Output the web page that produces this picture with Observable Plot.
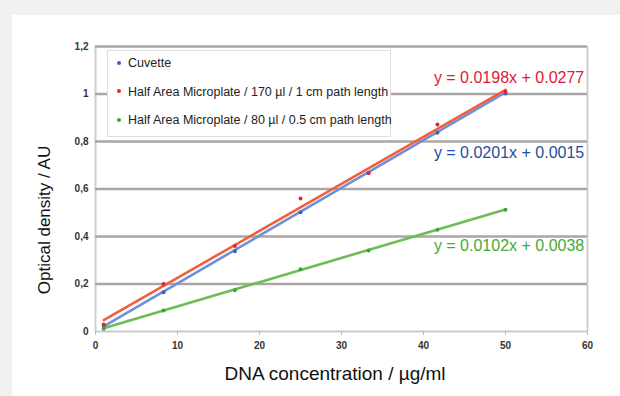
<!DOCTYPE html>
<html>
<head>
<meta charset="utf-8">
<script src="https://cdn.jsdelivr.net/npm/d3@7"></script>
<script src="https://cdn.jsdelivr.net/npm/@observablehq/plot@0.6"></script>
<style>
  html, body { margin: 0; padding: 0; background: #f1f1f1; }
  #wrap { position: relative; width: 620px; height: 396px; overflow: hidden; font-family: "Liberation Sans", Arial, sans-serif; }
  #panel { position: absolute; left: 12px; top: 15px; right: 0; bottom: 0; background: #fff; }
  #chart { position: absolute; left: 0; top: 0; }
  #legend { position: absolute; left: 107px; top: 50px; width: 284px; height: 87px; background: #fff; border: 1.5px solid #dedede; box-sizing: border-box; }
  .li { position: absolute; left: 9px; font-size: 12.5px; color: #222; white-space: nowrap; }
  .li span.dot { display: inline-block; width: 4px; height: 4px; border-radius: 2px; margin-right: 7px; vertical-align: middle; position: relative; top: -1px; }
  #xlab { position: absolute; left: 0; width: 670px; text-align: center; top: 363px; font-size: 19px; color: #111; }
  #ylab { position: absolute; left: 45px; top: 220px; font-size: 17px; color: #111; white-space: nowrap; transform: translate(-50%, -50%) rotate(-90deg); }
</style>
</head>
<body>
<div id="wrap">
  <div id="panel"></div>
  <div id="chart"></div>
  <div id="legend"></div>
  <div id="xlab">DNA concentration / µg/ml</div>
  <div id="ylab">Optical density / AU</div>
</div>
<script>
// ---- data ----
const concentrations = [1, 8.3, 17, 25, 33.3, 41.7, 50];
const seriesNames = ["Cuvette", "Half Area Microplate / 170 µl / 1 cm path length", "Half Area Microplate / 80 µl / 0.5 cm path length"];
const cuvette = [0.025, 0.165, 0.338, 0.502, 0.667, 0.837, 1.002];
const half170 = [0.030, 0.200, 0.360, 0.560, 0.667, 0.872, 1.011];
const half80 = [0.012, 0.088, 0.174, 0.262, 0.341, 0.428, 0.513];
const slopes = [0.0201, 0.0198, 0.0102];
const intercepts = [0.0015, 0.0277, 0.0038];
const equations = ["y = 0.0201x + 0.0015", "y = 0.0198x + 0.0277", "y = 0.0102x + 0.0038"];
const xTicks = [0, 10, 20, 30, 40, 50, 60];
const yTicks = [0, 0.2, 0.4, 0.6, 0.8, 1, 1.2];
const yTickLabels = ["0", "0,2", "0,4", "0,6", "0,8", "1", "1,2"];

const pointColors = ["#3f62b8", "#e3262d", "#3ea43a"];
const lineColors = ["#6f8fd6", "#f0603e", "#6bbd55"];
const textColors = ["#1f4f9c", "#e01935", "#47a835"];

const seriesValues = [cuvette, half170, half80];
const points = [];
seriesValues.forEach((vals, s) => vals.forEach((v, i) => points.push({s, x: concentrations[i], y: v})));
const fits = [];
slopes.forEach((m, s) => {
  const x0 = concentrations[0], x1 = concentrations[concentrations.length - 1];
  fits.push({s, x: x0, y: m * x0 + intercepts[s]});
  fits.push({s, x: x1, y: m * x1 + intercepts[s]});
});
const eqRows = equations.map((t, s) => ({s, t, y: [0.754, 1.066, 0.362][s]}));

const chart = Plot.plot({
  width: 620, height: 396,
  marginLeft: 95, marginRight: 33, marginTop: 46, marginBottom: 65,
  style: { background: "transparent", fontFamily: "Liberation Sans, Arial, sans-serif", overflow: "visible" },
  x: { domain: [0, 60] },
  y: { domain: [0, 1.2] },
  marks: [
    Plot.ruleX([0, 60], { stroke: "#d0d0d0", strokeWidth: 2 }),
    Plot.ruleY(yTicks.slice(1), { stroke: "#aaa6a6", strokeWidth: 2.5 }),
    Plot.ruleY([0], { stroke: "#cbcbcb", strokeWidth: 2 }),
    Plot.axisX({ ticks: xTicks, tickSize: 4, tickPadding: 6, stroke: "#bdbdbd", fill: "#333", fontSize: 10, fontWeight: "bold", label: null, tickFormat: d => String(d) }),
    Plot.axisY({ ticks: yTicks, tickSize: 0, tickPadding: 7, fill: "#333", fontSize: 10, fontWeight: "bold", label: null, tickFormat: d => yTickLabels[yTicks.indexOf(d)] }),
    Plot.line(fits, { x: "x", y: "y", z: "s", stroke: d => lineColors[d.s], strokeWidth: 2.6 }),
    Plot.dot(points, { x: "x", y: "y", r: 2, fill: d => pointColors[d.s], stroke: "none" }),
    Plot.text(eqRows, { x: 59.6, y: "y", text: "t", textAnchor: "end", fill: d => textColors[d.s], fontSize: 16 })
  ]
});
document.getElementById("chart").appendChild(chart);

const legend = document.getElementById("legend");
seriesNames.forEach((n, s) => {
  const d = document.createElement("div");
  d.className = "li";
  d.style.top = (5 + s * 28.5) + "px";
  d.innerHTML = `<span class="dot" style="background:${pointColors[s]}"></span>`;
  d.appendChild(document.createTextNode(n));
  legend.appendChild(d);
});
</script>
</body>
</html>
